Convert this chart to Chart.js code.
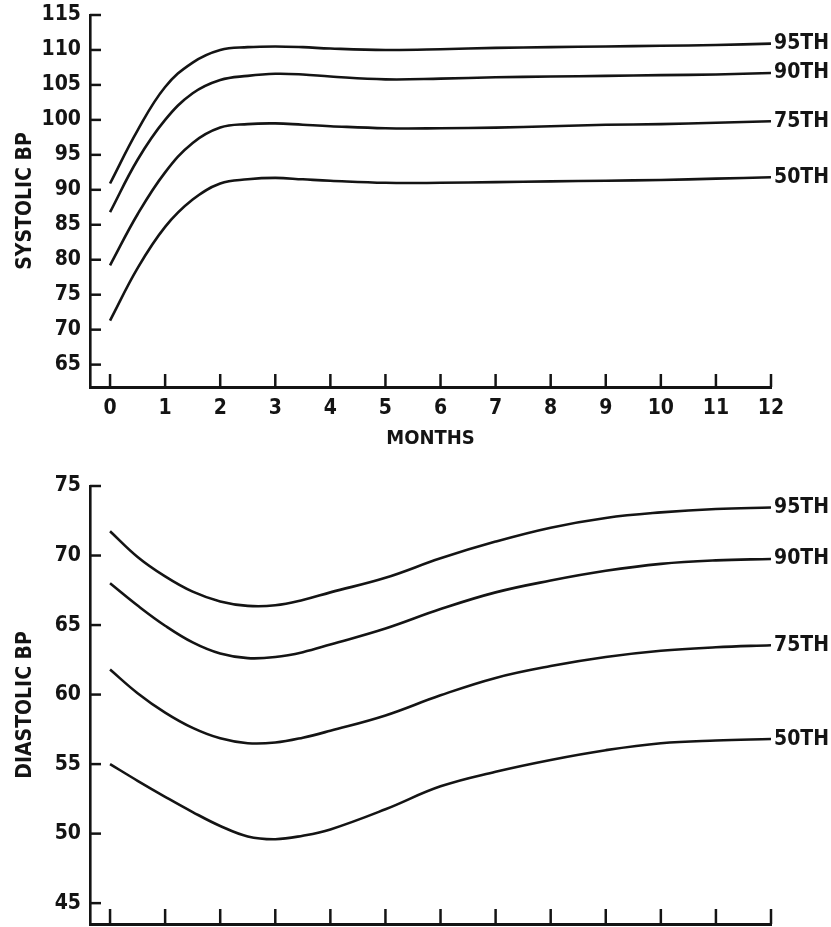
<!DOCTYPE html>
<html>
<head>
<meta charset="utf-8">
<title>Systolic / diastolic BP percentiles</title>
<script src="https://cdn.jsdelivr.net/npm/chart.js@4.4.1/dist/chart.umd.min.js"></script>
<style>
    html, body { margin: 0; padding: 0; background: #fff; }
    #wrap { position: relative; width: 831px; height: 927px; overflow: hidden; }
    .box { position: absolute; left: 0; width: 831px; }
    #top-box { top: 0; height: 462px; }
    #bottom-box { top: 462px; height: 465px; }
</style>
</head>
<body>
<div id="wrap">
    <div class="box" id="top-box"><canvas id="systolic-chart"></canvas></div>
    <div class="box" id="bottom-box"><canvas id="diastolic-chart"></canvas></div>
</div>
<script>
const MONTHS = [0, 0.5, 1, 1.5, 2, 2.5, 3, 3.5, 4, 5, 6, 7, 8, 9, 10, 11, 12];
const PERCENTILES = ['95TH', '90TH', '75TH', '50TH'];

// Systolic BP (mmHg)
const SYS_95 = [90.9, 98.5, 104.7, 108.2, 110.0, 110.4, 110.5, 110.4, 110.2, 110.0, 110.1, 110.3, 110.4, 110.5, 110.6, 110.7, 110.9];
const SYS_90 = [86.8, 94.3, 100.0, 103.8, 105.7, 106.3, 106.6, 106.5, 106.2, 105.8, 105.9, 106.1, 106.2, 106.3, 106.4, 106.5, 106.7];
const SYS_75 = [79.2, 86.5, 92.5, 96.7, 98.9, 99.4, 99.5, 99.3, 99.1, 98.8, 98.8, 98.9, 99.1, 99.3, 99.4, 99.6, 99.8];
const SYS_50 = [71.3, 78.8, 84.7, 88.6, 90.9, 91.5, 91.7, 91.5, 91.3, 91.0, 91.0, 91.1, 91.2, 91.3, 91.4, 91.6, 91.8];

// Diastolic BP (mmHg)
const DIA_95 = [71.75, 69.9, 68.5, 67.4, 66.7, 66.38, 66.42, 66.8, 67.35, 68.4, 69.8, 71.0, 72.0, 72.7, 73.1, 73.35, 73.45];
const DIA_90 = [68.0, 66.4, 64.95, 63.75, 62.95, 62.62, 62.7, 63.05, 63.6, 64.75, 66.15, 67.35, 68.2, 68.9, 69.4, 69.65, 69.75];
const DIA_75 = [61.8, 60.1, 58.7, 57.6, 56.85, 56.5, 56.55, 56.9, 57.4, 58.5, 59.95, 61.2, 62.05, 62.7, 63.15, 63.4, 63.55];
const DIA_50 = [55.0, 53.8, 52.65, 51.55, 50.55, 49.8, 49.6, 49.85, 50.3, 51.75, 53.4, 54.45, 55.3, 56.0, 56.5, 56.7, 56.8];

// Tick labels
const MONTH_TICKS = [0, 1, 2, 3, 4, 5, 6, 7, 8, 9, 10, 11, 12];
const SYS_TICKS = [65, 70, 75, 80, 85, 90, 95, 100, 105, 110, 115];
const DIA_TICKS = [45, 50, 55, 60, 65, 70, 75];

const INK = '#141414';
const FONT = "'Liberation Sans Narrow', 'Arial Narrow', 'DejaVu Sans Condensed', sans-serif";

// tick marks drawn inward from the axes, as in the printed figure
const insideTicks = {
    id: 'insideTicks',
    afterDatasetsDraw(chart, args, opts) {
        const { ctx, chartArea: a, scales: { x, y } } = chart;
        ctx.save();
        ctx.strokeStyle = INK;
        ctx.lineWidth = 2.5;
        y.ticks.forEach(t => {
            const py = y.getPixelForValue(t.value);
            ctx.beginPath();
            ctx.moveTo(a.left, py);
            ctx.lineTo(a.left + opts.yLen, py);
            ctx.stroke();
        });
        x.ticks.forEach(t => {
            const px = x.getPixelForValue(t.value);
            ctx.beginPath();
            ctx.moveTo(px, a.bottom);
            ctx.lineTo(px, a.bottom - opts.xLen);
            ctx.stroke();
        });
        ctx.restore();
    }
};

// percentile name written at the right end of each curve
const endLabels = {
    id: 'endLabels',
    afterDatasetsDraw(chart) {
        const { ctx } = chart;
        ctx.save();
        ctx.font = `bold 21px ${FONT}`;
        ctx.fillStyle = INK;
        ctx.textAlign = 'left';
        ctx.textBaseline = 'middle';
        chart.data.datasets.forEach((ds, i) => {
            const pts = chart.getDatasetMeta(i).data;
            const last = pts[pts.length - 1];
            ctx.fillText(ds.label, last.x + 3, last.y);
        });
        ctx.restore();
    }
};

// keep the chart area where the figure has it (no extra room for half labels)
function noEdgePadding(s) {
    s.paddingTop = 0;
    s.paddingBottom = 0;
    s.paddingLeft = 0;
    s.paddingRight = 0;
}

function buildDatasets(series) {
    return series.map((values, i) => ({
        label: PERCENTILES[i],
        data: MONTHS.map((m, j) => ({ x: m, y: values[j] })),
        borderColor: INK,
        borderWidth: 2.6,
        pointRadius: 0,
        fill: false,
        tension: 0.4
    }));
}

function renderPercentileChart(canvasId, series, cfg) {
    const canvas = document.getElementById(canvasId);
    new Chart(canvas.getContext('2d'), {
        type: 'line',
        data: { datasets: buildDatasets(series) },
        plugins: [insideTicks, endLabels],
        options: {
            responsive: true,
            maintainAspectRatio: false,
            animation: false,
            layout: { padding: { top: cfg.padTop, right: 60, bottom: 0, left: 0 } },
            plugins: {
                legend: { display: false },
                tooltip: { enabled: false },
                insideTicks: { yLen: 11, xLen: cfg.xTickLen }
            },
            scales: {
                x: {
                    type: 'linear',
                    min: -0.364,
                    max: 12,
                    afterBuildTicks: s => { s.ticks = MONTH_TICKS.map(v => ({ value: v })); },
                    afterFit: s => { s.height = cfg.xHeight; noEdgePadding(s); },
                    grid: { display: false, drawTicks: false },
                    border: { display: true, width: 3, color: INK },
                    ticks: {
                        display: cfg.showMonths,
                        padding: 9,
                        maxRotation: 0,
                        autoSkip: false,
                        color: INK,
                        font: { family: FONT, size: 21, weight: 'bold' }
                    },
                    title: {
                        display: cfg.showMonths,
                        text: 'MONTHS',
                        color: INK,
                        padding: { top: 0, bottom: 11 },
                        font: { family: FONT, size: 20, weight: 'bold' }
                    }
                },
                y: {
                    min: cfg.yMin,
                    max: cfg.yMax,
                    afterBuildTicks: s => { s.ticks = cfg.yTicks.map(v => ({ value: v })); },
                    afterFit: s => { s.width = 90; noEdgePadding(s); },
                    grid: { display: false, drawTicks: false },
                    border: { display: true, width: 2.6, color: INK },
                    ticks: {
                        padding: 9,
                        autoSkip: false,
                        color: INK,
                        font: { family: FONT, size: 21, weight: 'bold' }
                    },
                    title: {
                        display: true,
                        text: cfg.yTitle,
                        color: INK,
                        padding: { top: 13, bottom: 0 },
                        font: { family: FONT, size: 21, weight: 'bold' }
                    }
                }
            }
        }
    });
}

// top panel: systolic
renderPercentileChart('systolic-chart', [SYS_95, SYS_90, SYS_75, SYS_50], {
    padTop: 15, yMin: 61.8, yMax: 115, yTicks: SYS_TICKS,
    yTitle: 'SYSTOLIC BP', showMonths: true, xHeight: 75, xTickLen: 13
});

// bottom panel: diastolic (month labels are cut off in the figure)
renderPercentileChart('diastolic-chart', [DIA_95, DIA_90, DIA_75, DIA_50], {
    padTop: 24, yMin: 43.5, yMax: 75, yTicks: DIA_TICKS,
    yTitle: 'DIASTOLIC BP', showMonths: false, xHeight: 3, xTickLen: 15
});
</script>
</body>
</html>
